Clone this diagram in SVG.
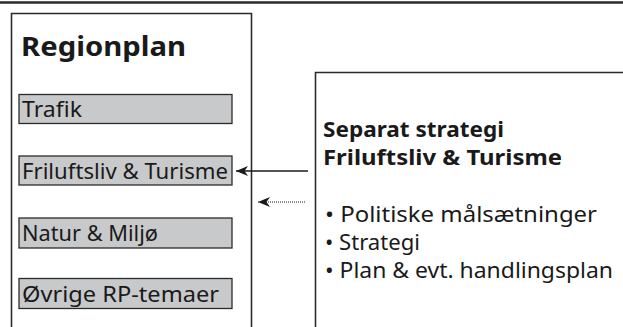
<svg xmlns="http://www.w3.org/2000/svg" width="623" height="327" viewBox="0 0 623 327">
<style>
.frame{fill:none;stroke:#2b2b2b;stroke-width:1.6}
.item{fill:#c8c9cb;stroke:#2b2b2b;stroke-width:1.3}
.t{font-family:"Noto Sans","Open Sans","Liberation Sans",sans-serif;fill:#1a1a1a}
.lbl{font-size:21px}
.b{font-weight:bold}
.hd{font-size:21.5px}
.bl{font-size:21px}
.conn{stroke:#1a1a1a;stroke-width:1.3;fill:none}
.dot{stroke:#1a1a1a;stroke-width:1;stroke-dasharray:1 1;fill:none}
</style>
<defs>
<marker id="arr" viewBox="0 0 12 10" refX="12" refY="5" markerWidth="12" markerHeight="10" markerUnits="userSpaceOnUse" orient="auto">
<path d="M0,0 L12,5 L0,10 L3.5,5 Z" fill="#1a1a1a"/>
</marker>
</defs>
<rect width="623" height="327" fill="#fff"/>
<line x1="0" y1="2.5" x2="623" y2="2.5" stroke="#2b2b2b" stroke-width="2.6"/>
<g id="regionplan">
<path class="frame" d="M11.5,327 V13.5 H251.5 V327"/>
<text class="t b" x="21" y="56" font-size="27" textLength="165" lengthAdjust="spacingAndGlyphs">Regionplan</text>
</g>
<g id="trafik">
<rect class="item" x="19" y="94.5" width="213" height="29"/>
<text class="t lbl" x="22" y="117" textLength="60" lengthAdjust="spacingAndGlyphs">Trafik</text>
</g>
<g id="friluftsliv">
<rect class="item" x="19" y="156" width="213" height="29"/>
<text class="t lbl" x="22" y="178.5" textLength="206" lengthAdjust="spacingAndGlyphs">Friluftsliv &amp; Turisme</text>
</g>
<g id="natur">
<rect class="item" x="19" y="218" width="213" height="30"/>
<text class="t lbl" x="22" y="241" textLength="136" lengthAdjust="spacingAndGlyphs">Natur &amp; Miljø</text>
</g>
<g id="ovrige">
<rect class="item" x="19" y="278.5" width="213" height="30"/>
<text class="t lbl" x="22" y="301.5" textLength="197" lengthAdjust="spacingAndGlyphs">Øvrige RP-temaer</text>
</g>
<g id="strategi">
<path class="frame" d="M315.5,327 V72.5 H623"/>
<text class="t b hd" x="323" y="137" textLength="181" lengthAdjust="spacingAndGlyphs">Separat strategi</text>
<text class="t b hd" x="323" y="165" textLength="239" lengthAdjust="spacingAndGlyphs">Friluftsliv &amp; Turisme</text>
<text class="t bl" x="325" y="222" textLength="272" lengthAdjust="spacingAndGlyphs">• Politiske målsætninger</text>
<text class="t bl" x="325" y="250" textLength="95" lengthAdjust="spacingAndGlyphs">• Strategi</text>
<text class="t bl" x="325" y="278" textLength="288" lengthAdjust="spacingAndGlyphs">• Plan &amp; evt. handlingsplan</text>
</g>
<g id="connectors">
<line class="conn" x1="308" y1="171" x2="236" y2="171" marker-end="url(#arr)"/>
<line class="dot" x1="305" y1="202" x2="258" y2="202" marker-end="url(#arr)"/>
</g>
</svg>
